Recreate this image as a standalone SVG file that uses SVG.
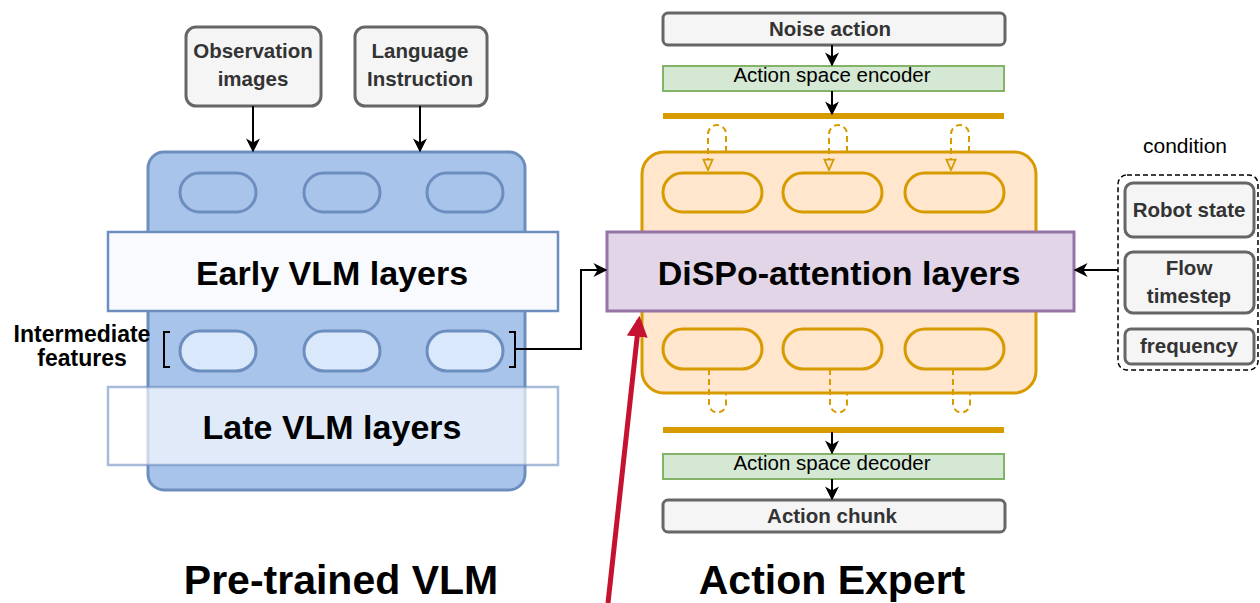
<svg xmlns="http://www.w3.org/2000/svg" width="1260" height="603" viewBox="0 0 1260 603">
  <defs>
    <marker id="arrBig" viewBox="0 0 10 10" refX="9" refY="5" markerWidth="14" markerHeight="14" orient="auto" markerUnits="userSpaceOnUse">
      <path d="M0,0 L10,5 L0,10 L3,5 Z" fill="#000"/>
    </marker>
    <marker id="openTri" viewBox="0 0 10 10" refX="9" refY="5" markerWidth="13" markerHeight="13" orient="auto" markerUnits="userSpaceOnUse">
      <path d="M1,1.5 L9,5 L1,8.5 Z" fill="#FFE6CC" stroke="#D79B00" stroke-width="1.4"/>
    </marker>
    <marker id="redArr" viewBox="0 0 10 10" refX="8" refY="5" markerWidth="21" markerHeight="21" orient="auto" markerUnits="userSpaceOnUse">
      <path d="M0,0 L10,5 L0,10 Z" fill="#C41230"/>
    </marker>
  </defs>
  <style>
    .box { fill: #F5F5F5; stroke: #666666; stroke-width: 3; }
    .boxtxt { font-family: "Liberation Sans", Arial, sans-serif; font-weight: bold; font-size: 20.5px; fill: #333333; text-anchor: middle; }
    .big { font-family: "Liberation Sans", Arial, sans-serif; font-weight: bold; fill: #000; text-anchor: middle; }
    .pillB { fill: #A9C4EB; stroke: #6C8EBF; stroke-width: 3; }
    .pillI { fill: #DAE8FC; stroke: #6C8EBF; stroke-width: 3; }
    .pillO { fill: #FFE6CC; stroke: #D79B00; stroke-width: 3; }
    .green { fill: #D5E8D4; stroke: #82B366; stroke-width: 2; }
    .greentxt { font-family: "Liberation Sans", Arial, sans-serif; font-size: 20.5px; fill: #000; text-anchor: middle; }
    .edge { fill: none; stroke: #000; stroke-width: 2; }
    .loop { fill: none; stroke: #D79B00; stroke-width: 2; stroke-dasharray: 6 4; }
    .bar { stroke: #D79B00; stroke-width: 6; }
  </style>

  <!-- Pre-trained VLM -->
  <g id="vlm">
    <rect x="148" y="152" width="377" height="338" rx="16" fill="#A9C4EB" stroke="#6C8EBF" stroke-width="3"/>
    <rect class="pillB" x="180" y="173" width="76" height="39" rx="19.5"/>
    <rect class="pillB" x="304" y="173" width="76" height="39" rx="19.5"/>
    <rect class="pillB" x="427" y="173" width="76" height="39" rx="19.5"/>
  </g>
  <g id="early-layers">
    <rect x="108" y="232" width="450" height="79" fill="#F8FAFE" stroke="#6C8EBF" stroke-width="2.5"/>
    <text class="big" x="332" y="285" font-size="34">Early VLM layers</text>
  </g>
  <g id="intermediate-features">
    <rect class="pillI" x="180" y="331" width="76" height="40" rx="20"/>
    <rect class="pillI" x="304" y="331" width="76" height="40" rx="20"/>
    <rect class="pillI" x="427" y="331" width="76" height="40" rx="20"/>
    <path d="M170,332 H164 V367 H170" fill="none" stroke="#000" stroke-width="2"/>
    <path d="M509,332 H515 V367 H509" fill="none" stroke="#000" stroke-width="2"/>
    <text class="big" x="82" y="342" font-size="23">Intermediate</text>
    <text class="big" x="82" y="366" font-size="23">features</text>
  </g>
  <g id="late-layers">
    <rect x="108" y="387" width="450" height="78" fill="#FFFFFF" fill-opacity="0.65" stroke="#6C8EBF" stroke-opacity="0.6" stroke-width="2.5"/>
    <text class="big" x="332" y="439" font-size="34">Late VLM layers</text>
  </g>
  <g id="observation-images">
    <rect class="box" x="186" y="27" width="135" height="79" rx="10"/>
    <text class="boxtxt" x="253" y="58">Observation</text>
    <text class="boxtxt" x="253" y="86">images</text>
  </g>
  <g id="language-instruction">
    <rect class="box" x="355" y="27" width="132" height="79" rx="10"/>
    <text class="boxtxt" x="420" y="58">Language</text>
    <text class="boxtxt" x="420" y="86">Instruction</text>
  </g>

  <!-- Action expert -->
  <g id="expert">
    <rect x="642" y="152" width="394" height="241" rx="22" fill="#FFE6CC" stroke="#D79B00" stroke-width="3"/>
    <rect class="pillO" x="663" y="173" width="99" height="39" rx="19.5"/>
    <rect class="pillO" x="783" y="173" width="99" height="39" rx="19.5"/>
    <rect class="pillO" x="905" y="173" width="99" height="39" rx="19.5"/>
    <rect class="pillO" x="663" y="329" width="99" height="40" rx="20"/>
    <rect class="pillO" x="783" y="329" width="99" height="40" rx="20"/>
    <rect class="pillO" x="905" y="329" width="99" height="40" rx="20"/>
  </g>
  <g id="dispo-attention">
    <rect x="607" y="232" width="467" height="79" fill="#E1D5E7" stroke="#9673A6" stroke-width="3"/>
    <text class="big" x="839" y="285" font-size="34">DiSPo-attention layers</text>
  </g>
  <g id="noise-action">
    <rect class="box" x="663" y="13" width="342" height="32" rx="5"/>
    <text class="boxtxt" x="830" y="36">Noise action</text>
  </g>
  <g id="encoder">
    <rect class="green" x="663" y="66" width="341" height="25"/>
    <text class="greentxt" x="832" y="82">Action space encoder</text>
  </g>
  <g id="decoder">
    <rect class="green" x="663" y="454" width="341" height="25"/>
    <text class="greentxt" x="832" y="470">Action space decoder</text>
  </g>
  <g id="action-chunk">
    <rect class="box" x="663" y="500" width="342" height="32" rx="5"/>
    <text class="boxtxt" x="832" y="523">Action chunk</text>
  </g>
  <g id="bars">
    <line class="bar" x1="663" y1="116" x2="1004" y2="116"/>
    <line class="bar" x1="663" y1="430" x2="1004" y2="430"/>
  </g>

  <!-- Condition inputs -->
  <g id="condition">
    <text x="1185" y="153" font-family="Liberation Sans, Arial, sans-serif" font-size="21" text-anchor="middle" fill="#000">condition</text>
    <rect x="1118" y="175" width="140" height="195" rx="9" fill="none" stroke="#000" stroke-width="1.5" stroke-dasharray="5 3"/>
  </g>
  <g id="robot-state">
    <rect class="box" x="1125" y="183" width="129" height="54" rx="8"/>
    <text class="boxtxt" x="1189" y="217">Robot state</text>
  </g>
  <g id="flow-timestep">
    <rect class="box" x="1125" y="252" width="129" height="61" rx="8"/>
    <text class="boxtxt" x="1189" y="275">Flow</text>
    <text class="boxtxt" x="1189" y="303">timestep</text>
  </g>
  <g id="frequency">
    <rect class="box" x="1125" y="329" width="129" height="35" rx="6"/>
    <text class="boxtxt" x="1189" y="353">frequency</text>
  </g>

  <!-- Titles -->
  <g id="titles">
    <text class="big" x="341" y="594" font-size="41">Pre-trained VLM</text>
    <text class="big" x="832" y="594" font-size="41">Action Expert</text>
  </g>

  <!-- Connectors -->
  <g id="connectors">
    <line class="edge" x1="253" y1="106" x2="253" y2="151" marker-end="url(#arrBig)"/>
    <line class="edge" x1="420" y1="106" x2="420" y2="151" marker-end="url(#arrBig)"/>
    <path class="edge" d="M515,349 H581 V270 H606" marker-end="url(#arrBig)"/>
    <line class="edge" x1="832" y1="45" x2="832" y2="65" marker-end="url(#arrBig)"/>
    <line class="edge" x1="832" y1="91" x2="832" y2="114" marker-end="url(#arrBig)"/>
    <line class="edge" x1="832" y1="432" x2="832" y2="453" marker-end="url(#arrBig)"/>
    <line class="edge" x1="832" y1="479" x2="832" y2="499" marker-end="url(#arrBig)"/>
    <line class="edge" x1="1118" y1="270" x2="1075" y2="270" marker-end="url(#arrBig)"/>
    <!-- dashed recurrent loops, top -->
    <path class="loop" d="M726,152 V134 A9,9 0 0 0 708,134 V170" marker-end="url(#openTri)"/>
    <path class="loop" d="M847,152 V134 A9,9 0 0 0 829,134 V170" marker-end="url(#openTri)"/>
    <path class="loop" d="M969,152 V134 A9,9 0 0 0 951,134 V170" marker-end="url(#openTri)"/>
    <!-- dashed recurrent loops, bottom -->
    <path class="loop" d="M709,369 V404 A8.5,8.5 0 0 0 726,404 V393"/>
    <path class="loop" d="M830,369 V404 A8.5,8.5 0 0 0 847,404 V393"/>
    <path class="loop" d="M953,369 V404 A8.5,8.5 0 0 0 970,404 V393"/>
    <!-- highlight arrow -->
    <line x1="608" y1="603" x2="639" y2="320" stroke="#C41230" stroke-width="5" marker-end="url(#redArr)"/>
  </g>
</svg>
